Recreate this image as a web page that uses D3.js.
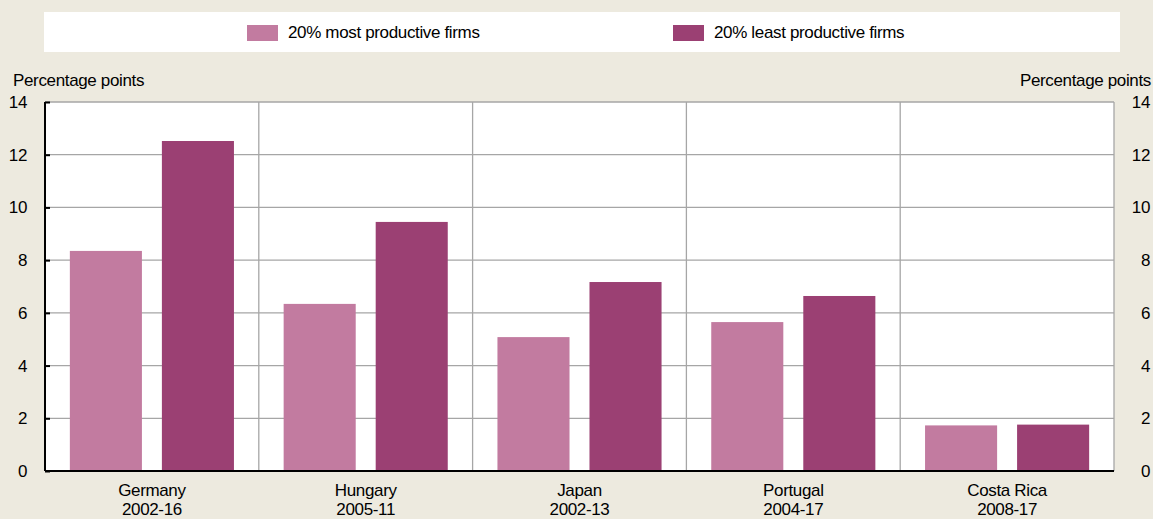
<!DOCTYPE html>
<meta charset="utf-8">
<style>
	body { margin: 0; background: #edeadf; }
	text { font-family: "Liberation Sans", Arial, sans-serif; fill: #000; letter-spacing: -0.35px; }
</style>
<body>
<script src="https://d3js.org/d3.v7.min.js"></script>
<script>
	var countries = ["Germany", "Hungary", "Japan", "Portugal", "Costa Rica"];
	var periods = ["2002-16", "2005-11", "2002-13", "2004-17", "2008-17"];
	var seriesNames = ["20% most productive firms", "20% least productive firms"];
	var mostProductive = [8.35, 6.34, 5.08, 5.65, 1.73];
	var leastProductive = [12.52, 9.45, 7.17, 6.64, 1.76];
	var yTicks = [0, 2, 4, 6, 8, 10, 12, 14];

	var colours = ["#c27ba0", "#9b4073"];
	var W = 1153, H = 519;
	var margin = {top: 102, right: 39, bottom: 48, left: 45};
	var width = W - margin.left - margin.right;
	var height = H - margin.top - margin.bottom;
	var fontSize = 17;

	var svg = d3.select("body").append("svg")
		.attr("width", W)
		.attr("height", H);

	// legend
	svg.append("rect")
		.attr("x", 44).attr("y", 12)
		.attr("width", 1076).attr("height", 40)
		.attr("fill", "#fff");
	var legendX = [247, 673];
	seriesNames.forEach(function(name, i) {
		svg.append("rect")
			.attr("x", legendX[i]).attr("y", 25)
			.attr("width", 31).attr("height", 16)
			.attr("fill", colours[i]);
		svg.append("text")
			.attr("x", legendX[i] + 41).attr("y", 38)
			.attr("font-size", fontSize + "px")
			.text(name);
	});

	var g = svg.append("g").attr("transform", "translate(" + margin.left + "," + margin.top + ")");

	var x0 = d3.scaleBand().domain(countries).range([0, width]).padding(0);
	var x1 = d3.scaleBand().domain([0, 1]).range([0, x0.bandwidth()])
		.paddingInner(0.217).paddingOuter(0.27);
	var y = d3.scaleLinear().domain([0, 14]).range([height, 0]);

	g.append("rect")
		.attr("width", width).attr("height", height)
		.attr("fill", "#fff");

	// grid
	g.selectAll("line.grid")
		.data(yTicks.slice(1))
		.enter().append("line")
		.attr("class", "grid")
		.attr("x1", 0).attr("x2", width)
		.attr("y1", function(d) { return y(d); })
		.attr("y2", function(d) { return y(d); })
		.attr("stroke", "#a6a6a6").attr("stroke-width", 1.3);

	g.selectAll("line.divider")
		.data(countries.slice(1).concat(["end"]))
		.enter().append("line")
		.attr("class", "divider")
		.attr("x1", function(d, i) { return i < countries.length - 1 ? x0(d) : width; })
		.attr("x2", function(d, i) { return i < countries.length - 1 ? x0(d) : width; })
		.attr("y1", 0).attr("y2", height)
		.attr("stroke", "#a6a6a6").attr("stroke-width", 1.3);

	// bars
	var data = countries.map(function(c, i) { return [mostProductive[i], leastProductive[i]]; });
	var groups = g.selectAll("g.country")
		.data(data)
		.enter().append("g")
		.attr("transform", function(d, i) { return "translate(" + x0(countries[i]) + ",0)"; });
	groups.selectAll("rect")
		.data(function(d) { return d; })
		.enter().append("rect")
		.attr("x", function(d, j) { return x1(j); })
		.attr("width", x1.bandwidth())
		.attr("y", function(d) { return y(d); })
		.attr("height", function(d) { return height - y(d); })
		.attr("fill", function(d, j) { return colours[j]; });

	// axes
	var leftAxis = g.append("g")
		.call(d3.axisLeft(y).tickValues(yTicks).tickSize(-5).tickPadding(18).tickFormat(d3.format("d")));
	leftAxis.select(".domain").attr("stroke", "#000").attr("stroke-width", 2).attr("d", "M0," + height + "V0");
	leftAxis.selectAll(".tick line").attr("stroke", "#000").attr("stroke-width", 2);
	leftAxis.selectAll("text").attr("font-size", fontSize + "px").attr("font-family", null);

	var rightAxis = g.append("g")
		.attr("transform", "translate(" + width + ",0)")
		.call(d3.axisRight(y).tickValues(yTicks).tickSize(0).tickPadding(36).tickFormat(d3.format("d")));
	rightAxis.select(".domain").remove();
	rightAxis.selectAll("text").attr("font-size", fontSize + "px").attr("font-family", null).attr("text-anchor", "end");

	g.append("line")
		.attr("x1", 0).attr("x2", width)
		.attr("y1", height).attr("y2", height)
		.attr("stroke", "#000").attr("stroke-width", 2);

	// category labels
	var labels = g.selectAll("text.cat")
		.data(countries)
		.enter().append("text")
		.attr("class", "cat")
		.attr("text-anchor", "middle")
		.attr("font-size", fontSize + "px")
		.attr("transform", function(d) { return "translate(" + (x0(d) + x0.bandwidth() / 2) + "," + (height + 25) + ")"; });
	labels.append("tspan").attr("x", 0).attr("y", 0).text(function(d) { return d; });
	labels.append("tspan").attr("x", 0).attr("y", 19).text(function(d, i) { return periods[i]; });

	// axis titles
	svg.append("text")
		.attr("x", 13).attr("y", 86)
		.attr("font-size", fontSize + "px")
		.text("Percentage points");
	svg.append("text")
		.attr("x", 1151).attr("y", 86)
		.attr("text-anchor", "end")
		.attr("font-size", fontSize + "px")
		.text("Percentage points");
</script>
</body>
